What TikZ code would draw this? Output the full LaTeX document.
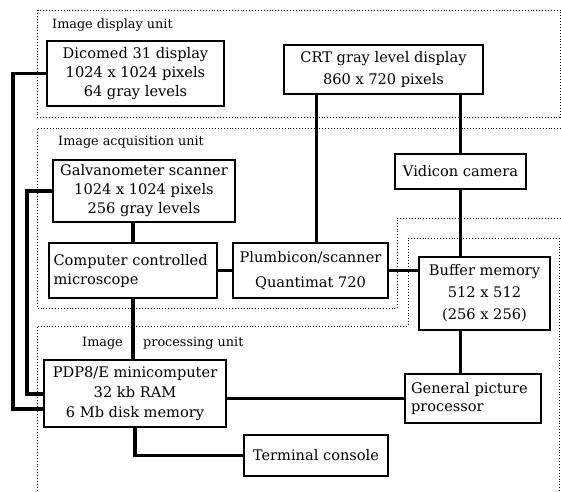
\documentclass[tikz,border=0pt]{standalone}
\usepackage{fontspec}
\setmainfont{DejaVu Serif}
\usepackage{tikz}

\begin{document}
\begin{tikzpicture}[
		x=1pt, y=-1pt,
		box/.style={draw, line width=1.6pt, inner sep=0pt, align=center,
			font=\fontsize{14.6}{19}\selectfont},
		link/.style={draw, line width=3.5pt},
		zone/.style={draw, dotted, line width=0.9pt},
		caption/.style={font=\fontsize{12.8}{15}\selectfont, inner sep=0pt}
	]
	\useasboundingbox (0,0) rectangle (561,491);
	% unit outlines
	\draw[zone] (37,10) rectangle (560,117);
	\draw[zone] (561,128) -- (37,128) -- (37,308) -- (397,308) -- (397,218) -- (561,218);
	\draw[zone] (559,491) -- (559,238) -- (408,238) -- (408,326) -- (37,326) -- (37,491);
	\node[caption, anchor=west] (dispunit) at (52,25) {Image display unit};
	\node[caption, anchor=west] (acqunit) at (58,142) {Image acquisition unit};
	\node[caption, anchor=east] (procA) at (123,343) {Image};
	\node[caption, anchor=west] (procB) at (143,343) {processing unit};
	% units
	\node[box, minimum width=177, minimum height=65] (dicomed) at (135.5,73.5)
		{Dicomed 31 display\\1024 x 1024 pixels\\64 gray levels};
	\node[box, minimum width=199, minimum height=49, font=\fontsize{14.6}{22}\selectfont] (crt) at (383.5,69.5)
		{CRT gray level display\\860 x 720 pixels};
	\node[box, minimum width=131, minimum height=35] (vidicon) at (460.5,171.5)
		{Vidicon camera};
	\node[box, minimum width=182, minimum height=62] (galvo) at (144,191)
		{Galvanometer scanner\\1024 x 1024 pixels\\256 gray levels};
	\node[box, minimum width=168, minimum height=55, align=left, text width=159] (micro) at (133,270.5)
		{Computer controlled\\microscope};
	\node[box, minimum width=155, minimum height=55, font=\fontsize{14.6}{25}\selectfont] (plumb) at (310.5,270.5)
		{Plumbicon/scanner\\Quantimat 720};
	\node[box, minimum width=131, minimum height=73, font=\fontsize{14.6}{22}\selectfont] (buffer) at (484.5,293.5)
		{Buffer memory\\512 x 512\\(256 x 256)};
	\node[box, minimum width=182, minimum height=67, font=\fontsize{14.6}{20}\selectfont] (pdp) at (135,393.5)
		{PDP8/E minicomputer\\32 kb RAM\\6 Mb disk memory};
	\node[box, minimum width=136, minimum height=49, align=left, text width=124, font=\fontsize{14.6}{17.5}\selectfont] (gpp) at (473,398.5)
		{General picture\\processor};
	\node[box, minimum width=144, minimum height=41] (term) at (316,455.5)
		{Terminal console};
	% connections
	\coordinate (outerbus) at (13,409);
	\coordinate (innerbus) at (27,394);
	\draw[link] (dicomed.west) -| (outerbus) -- (outerbus -| pdp.west);
	\draw[link] (galvo.west) -| (innerbus) -- (innerbus -| pdp.west);
	\draw[link] (micro.north) -- (micro.north |- galvo.south);
	\draw[link] (micro.south) -- (micro.south |- pdp.north);
	\draw[link] (micro) -- (plumb);
	\draw[link] ([xshift=6]plumb.north) -- ([xshift=6]plumb.north |- crt.south);
	\draw[link] (vidicon.north) -- (vidicon.north |- crt.south);
	\draw[link] (vidicon.south) -- (vidicon.south |- buffer.north);
	\draw[link] (plumb.east) -- (plumb.east -| buffer.west);
	\draw[link] (buffer.south -| vidicon) -- (gpp.north -| vidicon);
	\draw[link, line width=2.6pt] (pdp.east |- gpp.west) -- (gpp.west);
	\draw[link] (pdp.south) |- (term.west);
\end{tikzpicture}
\end{document}
